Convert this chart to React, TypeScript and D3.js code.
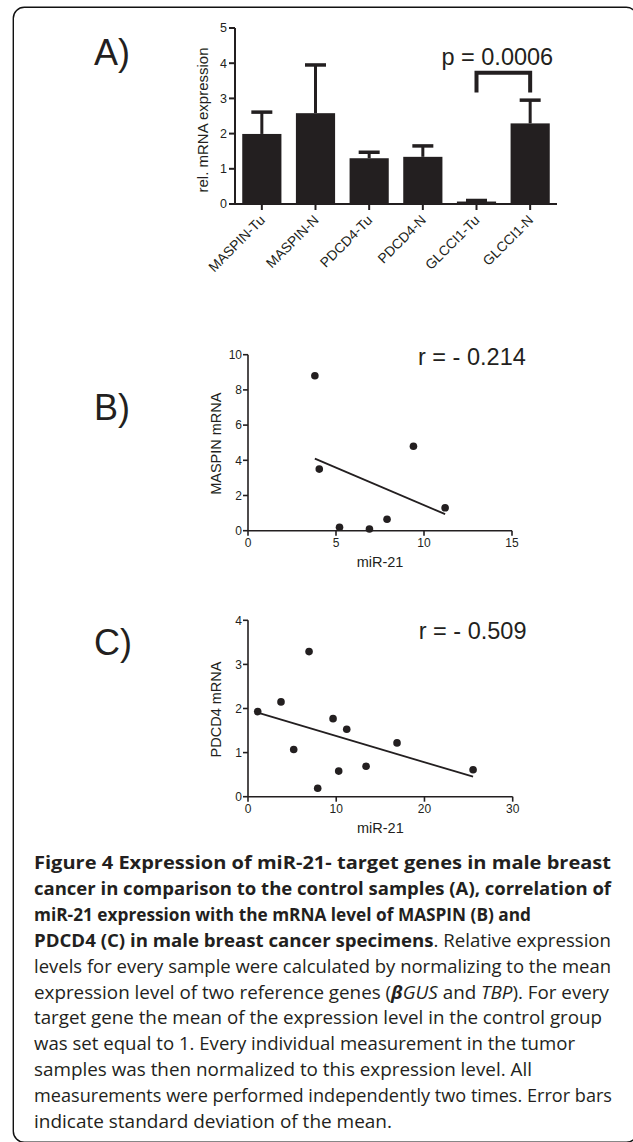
import React from "react";
import * as d3 from "d3";

// ---------- Panel A data ----------
const barCategories = ["MASPIN-Tu", "MASPIN-N", "PDCD4-Tu", "PDCD4-N", "GLCCI1-Tu", "GLCCI1-N"];
const barMeans = [1.99, 2.58, 1.3, 1.34, 0.07, 2.29];
const barSD = [0.62, 1.37, 0.17, 0.31, 0.03, 0.66];
const barYTicks = [0, 1, 2, 3, 4, 5];
const bracketPair = ["GLCCI1-Tu", "GLCCI1-N"];
const bracketTop = 3.73;
const bracketLegBottom = 3.17;
const pLabel = "p = 0.0006";

// ---------- Panel B data ----------
const maspinMiR21 = [3.8, 4.05, 5.2, 6.9, 7.9, 9.4, 11.2];
const maspinMRNA = [8.8, 3.5, 0.2, 0.1, 0.65, 4.8, 1.3];
const maspinXTicks = [0, 5, 10, 15];
const maspinYTicks = [0, 2, 4, 6, 8, 10];
const maspinR = "r = - 0.214";

// ---------- Panel C data ----------
const pdcd4MiR21 = [1.1, 3.74, 5.18, 6.92, 7.9, 9.64, 10.28, 11.19, 13.38, 16.89, 25.51];
const pdcd4MRNA = [1.93, 2.15, 1.07, 3.29, 0.19, 1.77, 0.58, 1.53, 0.69, 1.22, 0.61];
const pdcd4XTicks = [0, 10, 20, 30];
const pdcd4YTicks = [0, 1, 2, 3, 4];
const pdcd4R = "r = - 0.509";

// ---------- Caption ----------
type Seg = { t: string; b?: boolean; i?: boolean };
const captionLines: Seg[][] = [
  [{ t: "Figure 4 Expression of miR-21- target genes in male breast", b: true }],
  [{ t: "cancer in comparison to the control samples (A), correlation of", b: true }],
  [{ t: "miR-21 expression with the mRNA level of MASPIN (B) and", b: true }],
  [{ t: "PDCD4 (C) in male breast cancer specimens", b: true }, { t: ". Relative expression" }],
  [{ t: "levels for every sample were calculated by normalizing to the mean" }],
  [
    { t: "expression level of two reference genes (" },
    { t: "β", b: true, i: true },
    { t: "GUS", i: true },
    { t: " and " },
    { t: "TBP", i: true },
    { t: "). For every" },
  ],
  [{ t: "target gene the mean of the expression level in the control group" }],
  [{ t: "was set equal to 1. Every individual measurement in the tumor" }],
  [{ t: "samples was then normalized to this expression level. All" }],
  [{ t: "measurements were performed independently two times. Error bars" }],
  [{ t: "indicate standard deviation of the mean." }],
];
// rendered width of each caption line (ragged right edge of the reference)
const captionWidths = [577, 577, 497, 577, 577, 575, 568, 541, 498, 578, 358];

const INK = "#231f20";
const CHART_FONT = "'Liberation Sans', Arial, Helvetica, sans-serif";
const CAPTION_FONT = "'Open Sans', 'Noto Sans', sans-serif";

function regression(xs: number[], ys: number[]) {
  const mx = d3.mean(xs)!;
  const my = d3.mean(ys)!;
  let sxy = 0;
  let sxx = 0;
  xs.forEach((x, i) => {
    sxy += (x - mx) * (ys[i] - my);
    sxx += (x - mx) * (x - mx);
  });
  const slope = sxy / sxx;
  const x0 = d3.min(xs)!;
  const x1 = d3.max(xs)!;
  return [
    [x0, my + slope * (x0 - mx)],
    [x1, my + slope * (x1 - mx)],
  ] as [number, number][];
}

function BarPanel() {
  const x = d3.scaleBand<string>().domain(barCategories).range([235, 557]).paddingInner(0.27).paddingOuter(0.135);
  const y = d3.scaleLinear().domain([0, 5]).range([204, 28]);
  const bw = x.bandwidth();
  const cx = (c: string) => (x(c) as number) + bw / 2;
  return (
    <g fontFamily={CHART_FONT} fill={INK}>
      <text x={94} y={65} fontSize={36}>A)</text>
      {barCategories.map((c, i) => (
        <g key={c}>
          <rect x={x(c)} y={y(barMeans[i])} width={bw} height={y(0) - y(barMeans[i])} fill={INK} />
          <line x1={cx(c)} x2={cx(c)} y1={y(barMeans[i])} y2={y(barMeans[i] + barSD[i])} stroke={INK} strokeWidth={3} />
          <line x1={cx(c) - 10.5} x2={cx(c) + 10.5} y1={y(barMeans[i] + barSD[i])} y2={y(barMeans[i] + barSD[i])} stroke={INK} strokeWidth={3.5} />
        </g>
      ))}
      <line x1={235} x2={235} y1={y(5)} y2={y(0)} stroke={INK} strokeWidth={2} />
      <line x1={234} x2={x.range()[1]} y1={y(0)} y2={y(0)} stroke={INK} strokeWidth={2} />
      {barYTicks.map((t) => (
        <g key={t}>
          <line x1={229} x2={235} y1={y(t)} y2={y(t)} stroke={INK} strokeWidth={2} />
          <text x={227} y={y(t)} dy="0.35em" textAnchor="end" fontSize={12.5}>{t}</text>
        </g>
      ))}
      {barCategories.map((c) => (
        <g key={"t" + c}>
          <line x1={cx(c)} x2={cx(c)} y1={y(0)} y2={y(0) + 6} stroke={INK} strokeWidth={2} />
          <text transform={`translate(${cx(c) + 4},${y(0) + 17}) rotate(-45)`} textAnchor="end" fontSize={13.8}>{c}</text>
        </g>
      ))}
      <text transform={`translate(208,${(y(5) + y(0)) / 2 + 4}) rotate(-90)`} textAnchor="middle" fontSize={15}>rel. mRNA expression</text>
      <path
        d={`M${cx(bracketPair[0])},${y(bracketLegBottom)} V${y(bracketTop)} H${cx(bracketPair[1])} V${y(bracketLegBottom)}`}
        fill="none"
        stroke={INK}
        strokeWidth={4}
      />
      <text x={(cx(bracketPair[0]) + cx(bracketPair[1])) / 2 - 6} y={65} textAnchor="middle" fontSize={23.5}>{pLabel}</text>
    </g>
  );
}

type ScatterProps = {
  label: string;
  labelY: number;
  xs: number[];
  ys: number[];
  xTicks: number[];
  yTicks: number[];
  xRange: [number, number];
  yRange: [number, number];
  yTitle: string;
  rText: string;
  rBaseline: number;
};

function ScatterPanel(p: ScatterProps) {
  const x = d3.scaleLinear().domain([p.xTicks[0], p.xTicks[p.xTicks.length - 1]]).range(p.xRange);
  const y = d3.scaleLinear().domain([p.yTicks[0], p.yTicks[p.yTicks.length - 1]]).range(p.yRange);
  const fit = regression(p.xs, p.ys);
  const line = d3.line<[number, number]>().x((d) => x(d[0])).y((d) => y(d[1]));
  const x0 = p.xRange[0];
  const y0 = p.yRange[0];
  return (
    <g fontFamily={CHART_FONT} fill={INK}>
      <text x={94} y={p.labelY} fontSize={36}>{p.label}</text>
      <line x1={x0} x2={x0} y1={p.yRange[1]} y2={y0} stroke={INK} strokeWidth={1.6} />
      <line x1={x0} x2={p.xRange[1]} y1={y0} y2={y0} stroke={INK} strokeWidth={1.6} />
      {p.yTicks.map((t) => (
        <g key={"y" + t}>
          <line x1={x0 - 5} x2={x0} y1={y(t)} y2={y(t)} stroke={INK} strokeWidth={1.6} />
          <text x={x0 - 6} y={y(t)} dy="0.35em" textAnchor="end" fontSize={12}>{t}</text>
        </g>
      ))}
      {p.xTicks.map((t) => (
        <g key={"x" + t}>
          <line x1={x(t)} x2={x(t)} y1={y0} y2={y0 + 5} stroke={INK} strokeWidth={1.6} />
          <text x={x(t)} y={y0 + 16} textAnchor="middle" fontSize={12}>{t}</text>
        </g>
      ))}
      <text x={(p.xRange[0] + p.xRange[1]) / 2} y={y0 + 36} textAnchor="middle" fontSize={14.5}>miR-21</text>
      <text transform={`translate(221,${(p.yRange[0] + p.yRange[1]) / 2 + 1}) rotate(-90)`} textAnchor="middle" fontSize={14.5}>{p.yTitle}</text>
      <path d={line(fit) || ""} fill="none" stroke={INK} strokeWidth={1.8} />
      {p.xs.map((v, i) => (
        <circle key={i} cx={x(v)} cy={y(p.ys[i])} r={3.8} fill={INK} />
      ))}
      <text x={p.xRange[1] - 94} y={p.rBaseline} fontSize={23.5}>{p.rText}</text>
    </g>
  );
}

function Caption() {
  const x0 = 34;
  const top = 869;
  const lh = 25.9;
  return (
    <g fontFamily={CAPTION_FONT} fill={INK} fontSize={18}>
      {captionLines.map((segs, li) => (
        <text key={li} x={x0} y={top + li * lh} textLength={captionWidths[li]} lengthAdjust="spacingAndGlyphs">
          {segs.map((s, si) => (
            <tspan key={si} fontWeight={s.b ? 700 : 400} fontStyle={s.i ? "italic" : "normal"}>{s.t}</tspan>
          ))}
        </text>
      ))}
    </g>
  );
}

export default function App() {
  return (
    <svg
      width={633}
      height={1142}
      viewBox="0 0 633 1142"
      style={{ position: "absolute", left: 0, top: 0, background: "#fff" }}
    >
      <rect x={0} y={0} width={633} height={1142} fill="#fff" />
      <rect x={13.3} y={7.3} width={624} height={1135} rx={11} fill="none" stroke="#111" strokeWidth={1.4} />
      <BarPanel />
      <ScatterPanel
        label="B)"
        labelY={420}
        xs={maspinMiR21}
        ys={maspinMRNA}
        xTicks={maspinXTicks}
        yTicks={maspinYTicks}
        xRange={[248, 512]}
        yRange={[530.7, 354.7]}
        yTitle="MASPIN mRNA"
        rText={maspinR}
        rBaseline={365}
      />
      <ScatterPanel
        label="C)"
        labelY={655}
        xs={pdcd4MiR21}
        ys={pdcd4MRNA}
        xTicks={pdcd4XTicks}
        yTicks={pdcd4YTicks}
        xRange={[248, 512.7]}
        yRange={[796.7, 620.3]}
        yTitle="PDCD4 mRNA"
        rText={pdcd4R}
        rBaseline={639}
      />
      <Caption />
    </svg>
  );
}
